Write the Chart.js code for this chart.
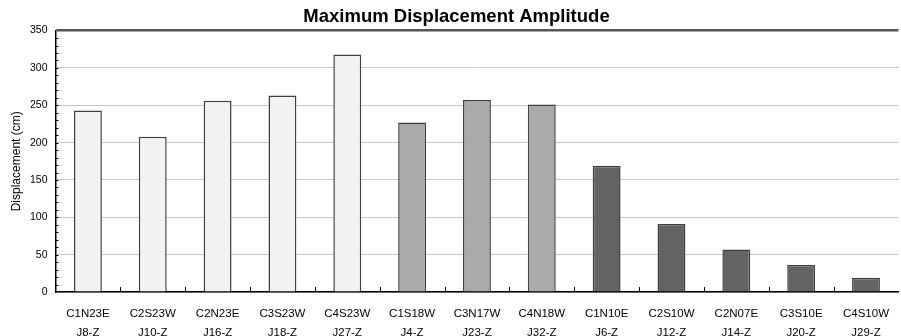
<!DOCTYPE html>
<html>
<head>
<meta charset="utf-8">
<script src="https://cdn.jsdelivr.net/npm/chart.js@4"></script>
<style>
  html, body { margin: 0; padding: 0; background: #fff; }
  #wrap { width: 901px; height: 336px; }
</style>
</head>
<body>
<div id="wrap"><canvas id="dispChart" width="901" height="336"></canvas></div>
<script>
const stations = ["C1N23E", "C2S23W", "C2N23E", "C3S23W", "C4S23W", "C1S18W", "C3N17W", "C4N18W", "C1N10E", "C2S10W", "C2N07E", "C3S10E", "C4S10W"];
const joints = ["J8-Z", "J10-Z", "J16-Z", "J18-Z", "J27-Z", "J4-Z", "J23-Z", "J32-Z", "J6-Z", "J12-Z", "J14-Z", "J20-Z", "J29-Z"];
const displacement = [243, 208, 256, 263, 318, 227, 257, 251, 169, 91, 57, 36, 19];
const barColors = ["#f2f2f2", "#f2f2f2", "#f2f2f2", "#f2f2f2", "#f2f2f2", "#aaaaaa", "#aaaaaa", "#aaaaaa", "#636363", "#636363", "#636363", "#636363", "#636363"];
const yTicks = [0, 50, 100, 150, 200, 250, 300, 350];

const labels = stations.map(function (s, i) {
  return [s, joints[i]];
});

// small inside ticks: minor ticks on y axis, category dividers on x axis
const innerTicks = {
  id: "innerTicks",
  afterDatasetsDraw(chart) {
    const c = chart.ctx;
    const x = chart.scales.x;
    const y = chart.scales.y;
    const area = chart.chartArea;
    c.save();
    c.strokeStyle = "#000";
    c.lineWidth = 1;
    c.beginPath();
    for (let v = 10; v < 350; v += 10) {
      const py = Math.round(y.getPixelForValue(v)) + 0.5;
      c.moveTo(area.left, py);
      c.lineTo(area.left + 3, py);
    }
    for (let i = 1; i < stations.length; i++) {
      const px = Math.round((x.getPixelForValue(i - 1) + x.getPixelForValue(i)) / 2) + 0.5;
      c.moveTo(px, area.bottom);
      c.lineTo(px, area.bottom - 5);
    }
    c.stroke();
    c.restore();
  },
};

const ctx = document.getElementById("dispChart");
const dispChart = new Chart(ctx, {
  type: "bar",
  data: {
    labels: labels,
    datasets: [
      {
        label: "",
        data: displacement,
        backgroundColor: barColors,
        borderColor: "#404040",
        borderWidth: 1.5,
        barPercentage: 0.43,
        categoryPercentage: 1,
      },
    ],
  },
  options: {
    responsive: false,
    animation: false,
    layout: { padding: { left: 12, right: 0, top: 0, bottom: 0 } },
    scales: {
      x: {
        grid: { display: false, drawTicks: false },
        border: { display: true, color: "#000", width: 1.5 },
        ticks: {
          color: "#000",
          padding: 12,
          maxRotation: 0,
          autoSkip: false,
          font: { family: "Liberation Sans", size: 11.5, lineHeight: 1.65 },
        },
        afterFit: function (scale) {
          scale.height = 44;
        },
      },
      y: {
        min: 0,
        max: 350,
        afterBuildTicks: function (scale) {
          scale.ticks = yTicks.map(function (v) {
            return { value: v };
          });
        },
        grid: {
          drawTicks: false,
          color: function (c) {
            return c.tick && c.tick.value === 350 ? "#555" : "#c8c8c8";
          },
          lineWidth: function (c) {
            return c.tick && c.tick.value === 350 ? 2.5 : 1;
          },
        },
        border: { display: true, color: "#000", width: 1.5 },
        ticks: {
          color: "#000",
          padding: 8,
          font: { family: "Liberation Sans", size: 10.5 },
        },
        title: {
          display: true,
          text: "Displacement (cm)",
          color: "#000",
          padding: { top: -2.5, bottom: 2 },
          font: { family: "Liberation Sans", size: 12, lineHeight: 1.2 },
        },
        afterFit: function (scale) {
          scale.width = 43.5;
        },
      },
    },
    plugins: {
      legend: { display: false },
      tooltip: { enabled: false },
      title: {
        display: true,
        text: "Maximum Displacement Amplitude",
        color: "#000",
        padding: { top: 5.4, bottom: 3 },
        font: { family: "Liberation Sans", size: 18.5, weight: "bold", lineHeight: 1.2 },
      },
    },
  },
  plugins: [innerTicks],
});
</script>
</body>
</html>
